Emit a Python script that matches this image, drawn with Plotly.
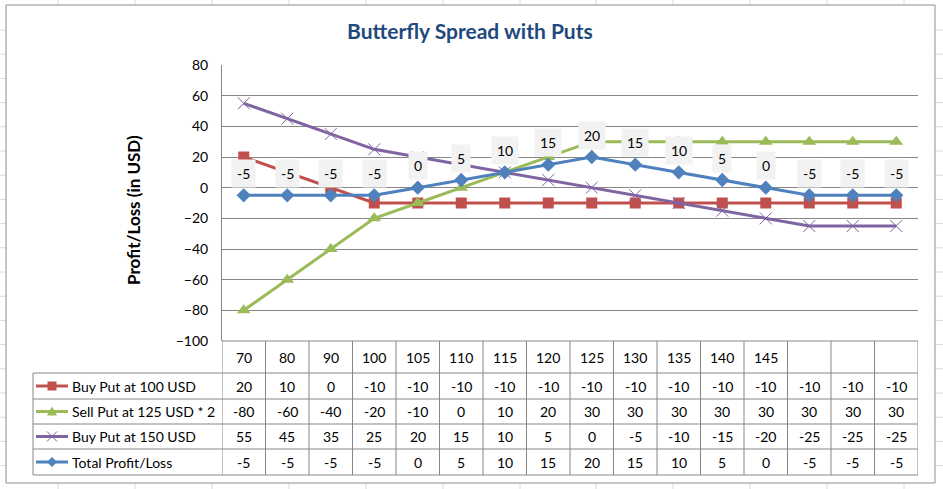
import plotly.graph_objects as go

# ---------------- data ----------------
categories = ["70", "80", "90", "100", "105", "110", "115", "120", "125",
              "130", "135", "140", "145", "", "", ""]
buy_put_100 = [20, 10, 0, -10, -10, -10, -10, -10, -10, -10, -10, -10, -10, -10, -10, -10]
sell_put_125x2 = [-80, -60, -40, -20, -10, 0, 10, 20, 30, 30, 30, 30, 30, 30, 30, 30]
buy_put_150 = [55, 45, 35, 25, 20, 15, 10, 5, 0, -5, -10, -15, -20, -25, -25, -25]
total_pl = [-5, -5, -5, -5, 0, 5, 10, 15, 20, 15, 10, 5, 0, -5, -5, -5]
series_names = ["Buy Put at 100 USD", "Sell Put at 125 USD * 2",
                "Buy Put at 150 USD", "Total Profit/Loss"]
y_ticks = [80, 60, 40, 20, 0, -20, -40, -60, -80, -100]

# ---------------- geometry / style ----------------
W, H = 943, 489
PL, PR, PT, PB = 222, 918, 65, 341          # plot area in pixels
FONT = "Lato"
GRID = "#868686"
colors = ["#C0504D", "#9BBB59", "#8064A2", "#4F81BD"]
symbols = ["square", "triangle-up", "x-thin-open", "diamond"]
msizes = [11, 12, 12, 11]
series = [buy_put_100, sell_put_125x2, buy_put_150, total_pl]


def X(px):
    return (px - PL) / (PR - PL)


def Y(py):
    return (PB - py) / (PB - PT)


idx = list(range(len(categories)))

fig = go.Figure()
for name, vals, c, s, ms in zip(series_names, series, colors, symbols, msizes):
    marker = dict(symbol=s, size=ms, color=c)
    if s == "x-thin-open":
        marker["line"] = dict(color=c, width=1)
    fig.add_trace(go.Scatter(x=idx, y=vals, name=name, mode="lines+markers",
                             line=dict(color=c, width=3), marker=marker,
                             showlegend=False, cliponaxis=False))

shapes = []
annotations = []


def ann(**kw):
    kw.setdefault("showarrow", False)
    kw.setdefault("xanchor", "center")
    kw.setdefault("yanchor", "middle")
    annotations.append(kw)


# background spreadsheet grid (outside chart area)
bg = "#DADADA"
for vx in [58, 135, 212, 289, 366, 443, 520, 596, 673, 750, 827, 904]:
    for (a, b) in [(0, 5), (483, 489)]:
        shapes.append(dict(type="line", xref="paper", yref="paper", x0=X(vx), x1=X(vx),
                           y0=Y(a), y1=Y(b), line=dict(color=bg, width=1), layer="below"))
hy = 30
while hy < H:
    for (a, b) in [(0, 6), (935, 943)]:
        shapes.append(dict(type="line", xref="paper", yref="paper", x0=X(a), x1=X(b),
                           y0=Y(hy), y1=Y(hy), line=dict(color=bg, width=1), layer="below"))
    hy += 24.2

# chart border
shapes.append(dict(type="rect", xref="paper", yref="paper", x0=X(6), x1=X(935),
                   y0=Y(5), y1=Y(483), line=dict(color="#8E8E8E", width=1), layer="below"))

# data table
row_edges = [373, 399, 424, 449, 475]
header_top = 341
legend_left = 33
shapes.append(dict(type="line", xref="paper", yref="paper", x0=0, x1=1,
                   y0=Y(header_top), y1=Y(header_top), line=dict(color=GRID, width=1)))
for ry in row_edges:
    shapes.append(dict(type="line", xref="paper", yref="paper", x0=X(legend_left), x1=1,
                       y0=Y(ry), y1=Y(ry), line=dict(color=GRID, width=1)))
for i in range(len(categories) + 1):
    shapes.append(dict(type="line", xref="x", yref="paper", x0=i - 0.5, x1=i - 0.5,
                       y0=Y(header_top), y1=Y(row_edges[-1]), line=dict(color=GRID, width=1)))
shapes.append(dict(type="line", xref="paper", yref="paper", x0=X(legend_left), x1=X(legend_left),
                   y0=Y(row_edges[0]), y1=Y(row_edges[-1]), line=dict(color=GRID, width=1)))

cell_font = dict(family=FONT, size=14, color="#000000")
# header row
for i, cat in enumerate(categories):
    if cat:
        ann(x=i, y=Y((header_top + row_edges[0]) / 2), xref="x", yref="paper",
            text=cat, font=cell_font)
# series rows
for r, (name, vals, c) in enumerate(zip(series_names, series, colors)):
    cy = (row_edges[r] + row_edges[r + 1]) / 2
    for i, v in enumerate(vals):
        ann(x=i, y=Y(cy), xref="x", yref="paper", text=str(v), font=cell_font)
    ann(x=X(70), y=Y(cy), xref="paper", yref="paper", text=name, xanchor="left", font=cell_font)
    # legend key: line + marker
    shapes.append(dict(type="line", xref="paper", yref="paper", x0=X(36), x1=X(68),
                       y0=Y(cy), y1=Y(cy), line=dict(color=c, width=3)))
    mx, my = 52, cy
    if r == 0:
        d = 4.5
        shapes.append(dict(type="rect", xref="paper", yref="paper", x0=X(mx - d), x1=X(mx + d),
                           y0=Y(my - d), y1=Y(my + d), fillcolor=c, line=dict(width=0)))
    elif r == 1:
        p = f"M {X(mx-5)} {Y(my+4)} L {X(mx+5)} {Y(my+4)} L {X(mx)} {Y(my-5)} Z"
        shapes.append(dict(type="path", xref="paper", yref="paper", path=p,
                           fillcolor=c, line=dict(width=0)))
    elif r == 2:
        d = 5
        for sgn in (1, -1):
            shapes.append(dict(type="line", xref="paper", yref="paper",
                               x0=X(mx - d), x1=X(mx + d), y0=Y(my - sgn * d), y1=Y(my + sgn * d),
                               line=dict(color=c, width=1)))
    else:
        d = 5
        p = (f"M {X(mx-d)} {Y(my)} L {X(mx)} {Y(my-d)} L {X(mx+d)} {Y(my)} "
             f"L {X(mx)} {Y(my+d)} Z")
        shapes.append(dict(type="path", xref="paper", yref="paper", path=p,
                           fillcolor=c, line=dict(width=0)))

# data labels for total series
for i, v in enumerate(total_pl):
    ann(x=i, y=v, xref="x", yref="y", text=str(v), yshift=22, bgcolor="#F2F2F2", borderpad=5,
        font=dict(family=FONT, size=14, color="#000000"))

# titles
ann(x=X(470), y=Y(31), xref="paper", yref="paper",
    text="<b>Butterfly Spread with Puts</b>",
    font=dict(family=FONT, size=21, color="#1F497D"))
ann(x=X(133), y=Y(210), xref="paper", yref="paper",
    text="<b>Profit/Loss (in USD)</b>", textangle=-90,
    font=dict(family=FONT, size=17, color="#000000"))

fig.update_layout(
    width=W, height=H, autosize=False,
    margin=dict(l=PL, r=W - PR, t=PT, b=H - PB, pad=0),
    paper_bgcolor="white", plot_bgcolor="white",
    showlegend=False,
    xaxis=dict(range=[-0.5, len(categories) - 0.5], showticklabels=False, showgrid=False,
               zeroline=False, showline=False, ticks="", fixedrange=True),
    yaxis=dict(range=[-100, 80], tickvals=y_ticks, showgrid=True, gridcolor=GRID, gridwidth=1,
               zeroline=False, showline=True, linecolor=GRID, linewidth=1, ticks="",
               tickfont=dict(family=FONT, size=14, color="#000000"), ticklabelstandoff=10),
    shapes=shapes, annotations=annotations,
)

fig.write_html("out.html", config={"displayModeBar": False},
               post_script="document.body.style.margin='0';")
